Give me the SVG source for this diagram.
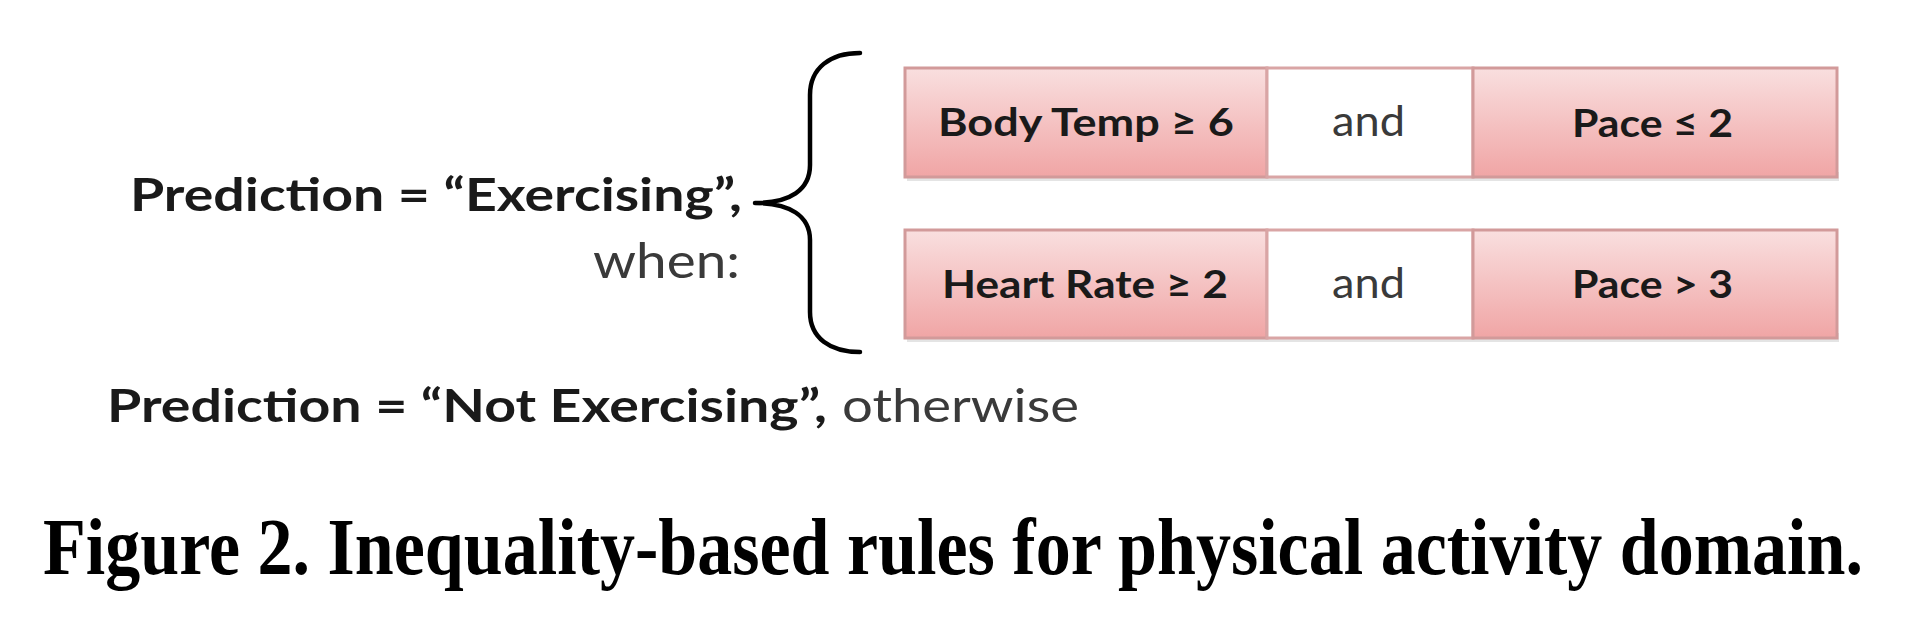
<svg xmlns="http://www.w3.org/2000/svg" width="1906" height="622" viewBox="0 0 1906 622">
  <defs>
    <linearGradient id="pink" x1="0" y1="0" x2="0" y2="1">
      <stop offset="0" stop-color="#f9dfdf"/>
      <stop offset="1" stop-color="#f0a5a5"/>
    </linearGradient>
  </defs>
  <style>
    .shadow { fill: #d9d9d9; opacity: 0.7; }
    .pink { fill: url(#pink); stroke: #d29a9a; stroke-width: 3; }
    .white { fill: #ffffff; stroke: #d9a5a5; stroke-width: 3; }
    .bt { font-family: Lato, "Liberation Sans", sans-serif; font-weight: bold; fill: #1a1a1a; }
    .rt { font-family: Lato, "Liberation Sans", sans-serif; font-weight: normal; fill: #3a3a3a; }
    .cap { font-family: "Liberation Serif", "Times New Roman", serif; font-weight: bold; fill: #000; }
    .brace { fill: none; stroke: #000; stroke-width: 4.5; stroke-linecap: round; stroke-linejoin: round; }
  </style>

  <g id="label-exercising">
    <text class="bt" x="130" y="211" font-size="46" textLength="612" lengthAdjust="spacingAndGlyphs">Prediction = “Exercising”,</text>
    <text class="rt" x="593" y="278" font-size="48" textLength="147" lengthAdjust="spacingAndGlyphs">when:</text>
  </g>

  <g id="brace">
    <path class="brace" d="M860,53 C830,53 810,68 810,95 L810,165 C810,190 790,203 755,203 C790,203 810,216 810,240 L810,312 C810,338 830,352 860,352"/>
  </g>

  <g id="rule1">
    <rect class="shadow" x="907" y="172" width="932" height="9"/>
    <rect class="pink" x="905" y="68" width="362" height="109"/>
    <rect class="white" x="1267" y="68" width="206" height="109"/>
    <rect class="pink" x="1473" y="68" width="364" height="109"/>
    <text class="bt" x="938" y="136" font-size="39" textLength="296" lengthAdjust="spacingAndGlyphs">Body Temp ≥ 6</text>
    <text class="rt" x="1332" y="136" font-size="42" textLength="73" lengthAdjust="spacingAndGlyphs">and</text>
    <text class="bt" x="1572" y="137" font-size="39" textLength="161" lengthAdjust="spacingAndGlyphs">Pace ≤ 2</text>
  </g>

  <g id="rule2">
    <rect class="shadow" x="907" y="333" width="932" height="9"/>
    <rect class="pink" x="905" y="230" width="362" height="108"/>
    <rect class="white" x="1267" y="230" width="206" height="108"/>
    <rect class="pink" x="1473" y="230" width="364" height="108"/>
    <text class="bt" x="942" y="298" font-size="39" textLength="286" lengthAdjust="spacingAndGlyphs">Heart Rate ≥ 2</text>
    <text class="rt" x="1332" y="298" font-size="42" textLength="73" lengthAdjust="spacingAndGlyphs">and</text>
    <text class="bt" x="1572" y="298" font-size="39" textLength="161" lengthAdjust="spacingAndGlyphs">Pace &gt; 3</text>
  </g>

  <g id="label-not-exercising">
    <text class="bt" x="107" y="422" font-size="46" textLength="720" lengthAdjust="spacingAndGlyphs">Prediction = “Not Exercising”,</text>
    <text class="rt" x="842" y="422" font-size="46" textLength="237" lengthAdjust="spacingAndGlyphs">otherwise</text>
  </g>

  <g id="connectors"></g>

  <text class="cap" transform="translate(43,574) scale(1,1.3)" x="0" y="0" font-size="62" textLength="1820" lengthAdjust="spacingAndGlyphs">Figure 2. Inequality-based rules for physical activity domain.</text>
</svg>
